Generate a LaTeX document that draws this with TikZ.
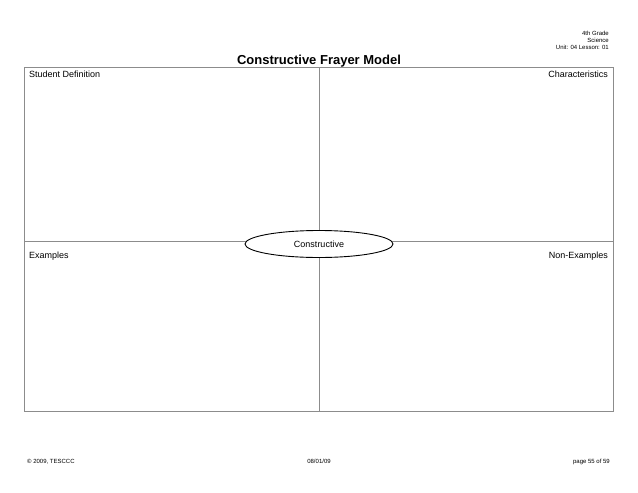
\documentclass[tikz,border=0pt]{standalone}
\usepackage{fontspec}
\setmainfont{Liberation Sans}
\usetikzlibrary{shapes.geometric}
\begin{document}
\begin{tikzpicture}[x=1pt,y=-1pt,
  grid/.style={draw=black!45,line width=0.9pt},
  lbl/.style={inner sep=0pt,font=\fontsize{9}{10}\selectfont},
  small/.style={inner sep=0pt,font=\fontsize{6}{7}\selectfont},
  oval/.style={ellipse,draw=black,fill=white,line width=0.9pt,minimum width=148pt,minimum height=27pt,inner sep=0pt,font=\fontsize{9}{10}\selectfont}]
\useasboundingbox (0,0) rectangle (638,493);
\coordinate (tl) at (24,67);
\coordinate (br) at (613,411);
\coordinate (tm) at (319,67);
\coordinate (bm) at (319,411);
\coordinate (lm) at (24,241);
\coordinate (rm) at (613,241);
\draw[grid] (tl) rectangle (br);
\draw[grid] (tm) -- (bm);
\draw[grid] (lm) -- (rm);
\node[oval] (center) at (319,244) {Constructive};
\node[font=\bfseries\fontsize{13}{15}\selectfont,inner sep=0pt,anchor=base] (title) at (319,64) {Constructive Frayer Model};
\node[small,anchor=base east] (h1) at (609,35) {4th Grade};
\node[small,anchor=base east] (h2) at (609,42) {Science};
\node[small,anchor=base east] (h3) at (609,49) {Unit: 04 Lesson: 01};
\node[lbl,anchor=base west] (sd) at (29,77) {Student Definition};
\node[lbl,anchor=base east] (ch) at (608,77) {Characteristics};
\node[lbl,anchor=base west] (ex) at (29,258) {Examples};
\node[lbl,anchor=base east] (nx) at (608,258) {Non-Examples};
\node[small,anchor=base west] (f1) at (27,463) {© 2009, TESCCC};
\node[small,anchor=base] (f2) at (319,463) {08/01/09};
\node[small,anchor=base east] (f3) at (610,463) {page 55 of 59};
\end{tikzpicture}
\end{document}
